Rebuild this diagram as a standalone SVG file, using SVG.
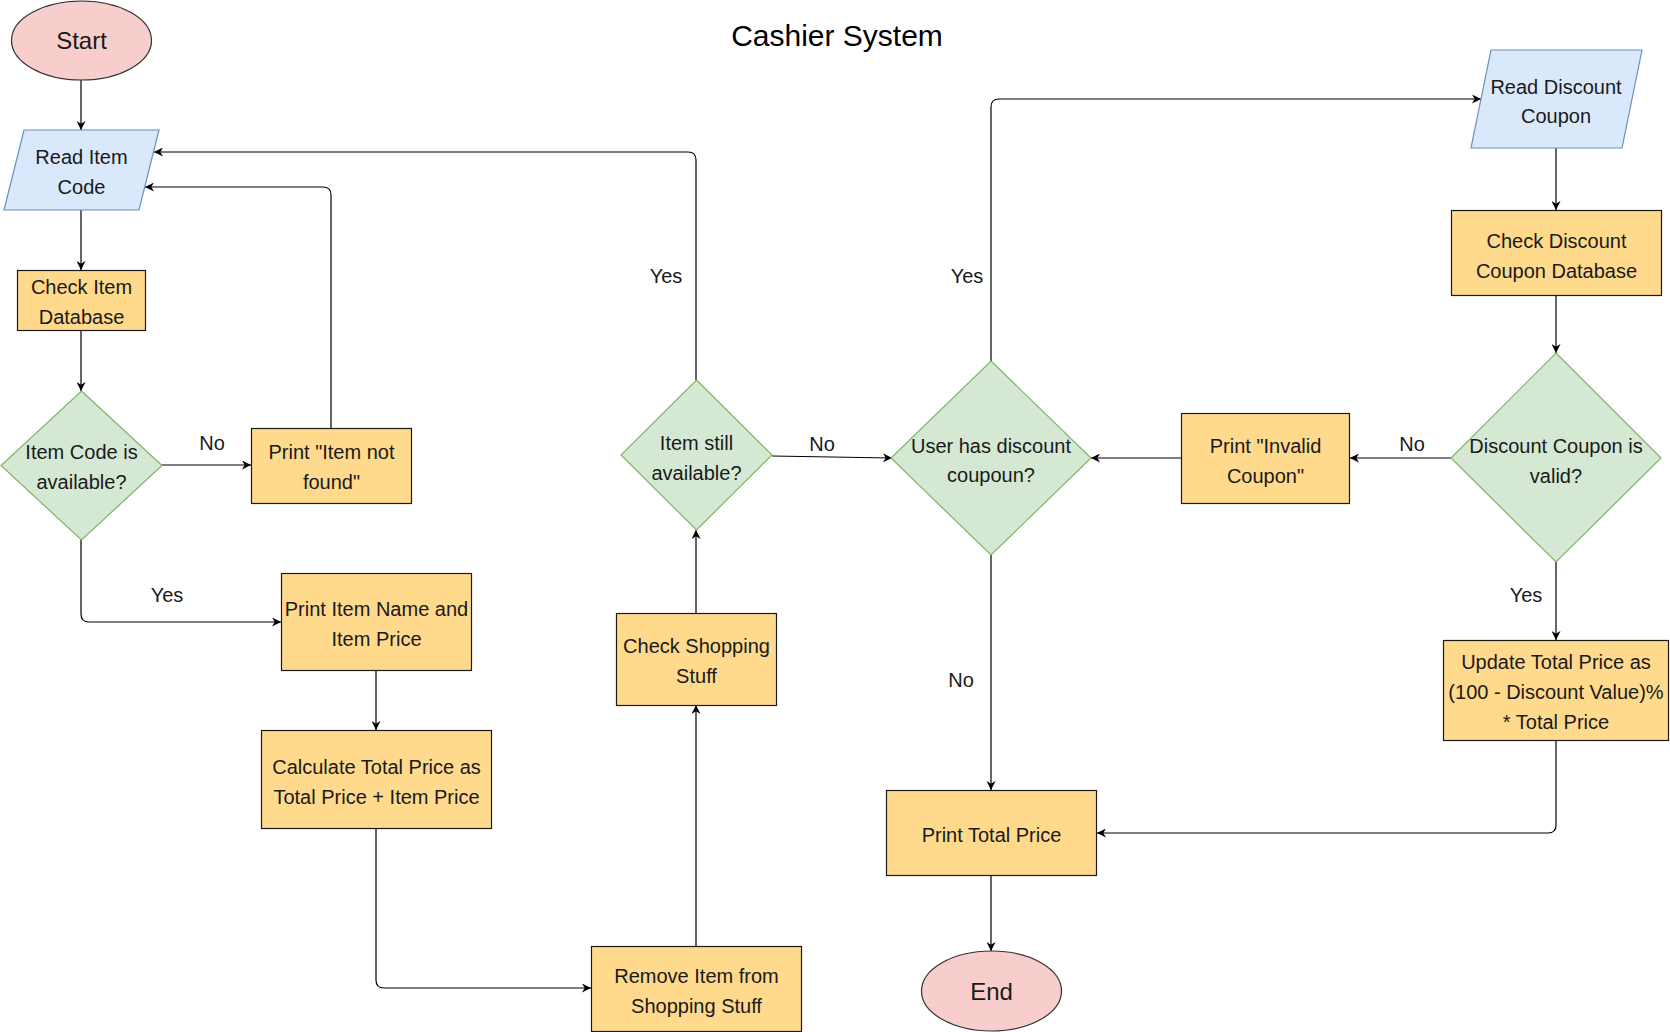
<svg xmlns="http://www.w3.org/2000/svg" width="1670" height="1032" viewBox="0 0 1670 1032">
<defs>
<marker id="arr" viewBox="0 0 10 10" refX="10" refY="5" markerWidth="9" markerHeight="9" markerUnits="userSpaceOnUse" orient="auto">
<path d="M0,0 L10,5 L0,10 L3,5 Z" fill="#000"/>
</marker>
<style>
.proc{fill:#FFD98C;stroke:#1a1a1a;stroke-width:1.2}
.dec{fill:#d5e8d4;stroke:#82b366;stroke-width:1.2}
.io{fill:#dae8fc;stroke:#6c8ebf;stroke-width:1.2}
.term{fill:#f8cecc;stroke:#333;stroke-width:1.2}
text{font-family:"Liberation Sans",Arial,sans-serif;font-size:20px;fill:#1a1a1a;text-anchor:middle}
.big{font-size:24px}
.title{font-size:30px;fill:#000}
.conn path{fill:none;stroke:#000;stroke-width:1.2;marker-end:url(#arr)}
</style>
</defs>
<rect width="1670" height="1032" fill="#fff"/>
<text class="title" x="837" y="46">Cashier System</text>

<g class="conn" id="connectors">
<path d="M81,80 V130"/>
<path d="M81,210 V270"/>
<path d="M81,330 V391"/>
<path d="M162,465 H251"/>
<path d="M331,428 V195 Q331,187 323,187 H145"/>
<path d="M81,540 V614 Q81,622 89,622 H281"/>
<path d="M376,670 V730"/>
<path d="M376,828 V980 Q376,988 384,988 H591"/>
<path d="M696,946 V705"/>
<path d="M696,613 V530"/>
<path d="M696,380 V160 Q696,152 688,152 H154"/>
<path d="M772,456 L892,458"/>
<path d="M991,361 V107 Q991,99 999,99 H1481"/>
<path d="M1556,148 V210"/>
<path d="M1556,295 V353"/>
<path d="M1451,458 H1350"/>
<path d="M1181,458 H1091"/>
<path d="M1556,562 V640"/>
<path d="M1556,740 V825 Q1556,833 1548,833 H1097"/>
<path d="M991,555 V790"/>
<path d="M991,875 V951"/>
</g>

<g id="labels">
<text x="212" y="450">No</text>
<text x="167" y="602">Yes</text>
<text x="666" y="283">Yes</text>
<text x="822" y="451">No</text>
<text x="967" y="283">Yes</text>
<text x="961" y="687">No</text>
<text x="1412" y="451">No</text>
<text x="1526" y="602">Yes</text>
</g>

<g id="start">
<ellipse class="term" cx="81.5" cy="40.5" rx="70" ry="39.5"/>
<text class="big" x="81.5" y="49">Start</text>
</g>
<g id="read-item">
<polygon class="io" points="24,130 159,130 139,210 4,210"/>
<text x="81.5" y="164">Read Item</text>
<text x="81.5" y="194">Code</text>
</g>
<g id="check-item-db">
<rect class="proc" x="17.5" y="270.5" width="128" height="60"/>
<text x="81.5" y="294">Check Item</text>
<text x="81.5" y="324">Database</text>
</g>
<g id="item-available">
<polygon class="dec" points="81.5,391 162,465.5 81.5,540 1,465.5"/>
<text x="81.5" y="459">Item Code is</text>
<text x="81.5" y="489">available?</text>
</g>
<g id="item-not-found">
<rect class="proc" x="251.5" y="428.5" width="160" height="75"/>
<text x="331.5" y="459">Print "Item not</text>
<text x="331.5" y="489">found"</text>
</g>
<g id="print-item">
<rect class="proc" x="281.5" y="573.5" width="190" height="97"/>
<text x="376.5" y="616">Print Item Name and</text>
<text x="376.5" y="646">Item Price</text>
</g>
<g id="calc-total">
<rect class="proc" x="261.5" y="730.5" width="230" height="98"/>
<text x="376.5" y="774">Calculate Total Price as</text>
<text x="376.5" y="804">Total Price + Item Price</text>
</g>
<g id="remove-item">
<rect class="proc" x="591.5" y="946.5" width="210" height="85"/>
<text x="696.5" y="983">Remove Item from</text>
<text x="696.5" y="1013">Shopping Stuff</text>
</g>
<g id="check-shopping">
<rect class="proc" x="616.5" y="613.5" width="160" height="92"/>
<text x="696.5" y="653">Check Shopping</text>
<text x="696.5" y="683">Stuff</text>
</g>
<g id="item-still">
<polygon class="dec" points="696.5,380 772,455 696.5,530 621,455"/>
<text x="696.5" y="450">Item still</text>
<text x="696.5" y="480">available?</text>
</g>
<g id="user-discount">
<polygon class="dec" points="991,361 1091,458 991,555 891,458"/>
<text x="991" y="453">User has discount</text>
<text x="991" y="482">coupoun?</text>
</g>
<g id="read-discount">
<polygon class="io" points="1491,50 1642,50 1622,148 1471,148"/>
<text x="1556" y="94">Read Discount</text>
<text x="1556" y="123">Coupon</text>
</g>
<g id="check-discount-db">
<rect class="proc" x="1451.5" y="210.5" width="210" height="85"/>
<text x="1556.5" y="248">Check Discount</text>
<text x="1556.5" y="278">Coupon Database</text>
</g>
<g id="discount-valid">
<polygon class="dec" points="1556,353 1661,458 1556,562 1451,458"/>
<text x="1556" y="453">Discount Coupon is</text>
<text x="1556" y="483">valid?</text>
</g>
<g id="invalid-coupon">
<rect class="proc" x="1181.5" y="413.5" width="168" height="90"/>
<text x="1265.5" y="453">Print "Invalid</text>
<text x="1265.5" y="483">Coupon"</text>
</g>
<g id="update-total">
<rect class="proc" x="1443.5" y="640.5" width="225" height="100"/>
<text x="1556" y="669">Update Total Price as</text>
<text x="1556" y="699">(100 - Discount Value)%</text>
<text x="1556" y="729">* Total Price</text>
</g>
<g id="print-total">
<rect class="proc" x="886.5" y="790.5" width="210" height="85"/>
<text x="991.5" y="842">Print Total Price</text>
</g>
<g id="end">
<ellipse class="term" cx="991.5" cy="991" rx="70" ry="40"/>
<text class="big" x="991.5" y="1000">End</text>
</g>
</svg>
